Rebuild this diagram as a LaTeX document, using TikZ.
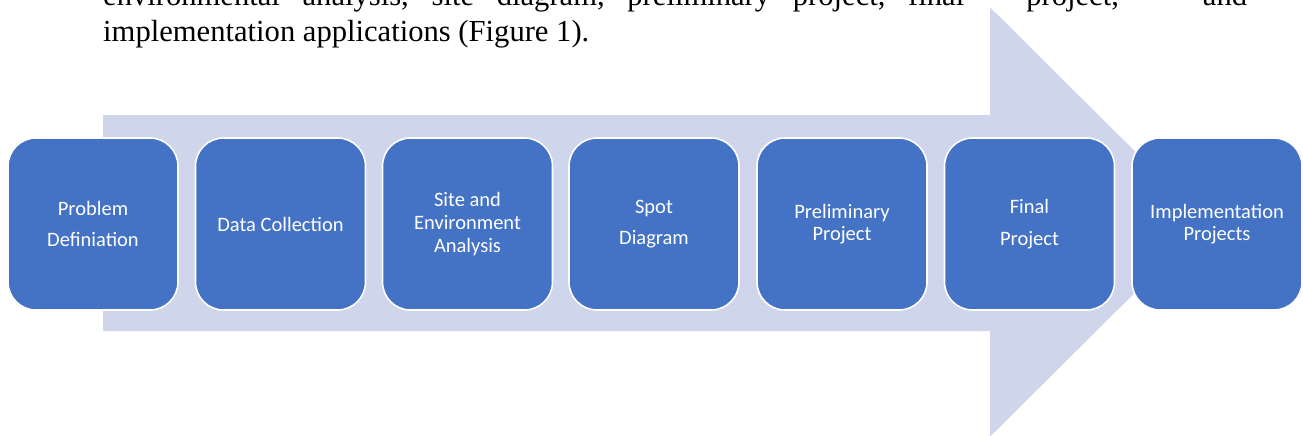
\documentclass[tikz,border=0pt]{standalone}
\usepackage{fontspec}
\setmainfont{Liberation Serif}
\newfontfamily\boxfont{Carlito}
\definecolor{arrowfill}{HTML}{CFD5EA}
\definecolor{stepfill}{HTML}{4472C4}
\begin{document}
\begin{tikzpicture}[x=1pt,y=-1pt,
  stepbox/.style={draw=white, line width=1.6pt, fill=stepfill, rounded corners=28pt,
    minimum width=170pt, minimum height=172pt, inner sep=0pt, text=white, align=center},
  lines/.style={font=\boxfont\fontsize{20.5}{#1}\selectfont},
  bodytext/.style={anchor=base west, inner sep=0pt, font=\fontsize{30.6}{36}\selectfont}]
\useasboundingbox (0,0) rectangle (1303,436);
\clip (0,0) rectangle (1303,436);

% paragraph lines above the figure
\node[bodytext] (line1) at (103,6) {environmental\hspace{22.7pt}analysis,\hspace{22.7pt}site\hspace{22.7pt}diagram,\hspace{22.7pt}preliminary\hspace{22.7pt}project,\hspace{22.7pt}final\hspace{62pt}project,\hspace{84pt}and};
\node[bodytext] (line2) at (103,41.7) {implementation applications (Figure 1).};

% large background arrow
\fill[arrowfill] (103,115) -- (990,115) -- (990,7.3) -- (1206,222)
  -- (990,436.7) -- (990,331) -- (103,331) -- cycle;

% process steps
\node[stepbox, lines=31] (s1) at (93,224)   {Problem\\Definiation};
\node[stepbox, lines=31] (s2) at (280.5,224) {Data Collection};
\node[stepbox, lines=23] (s3) at (467.5,224) {Site and\\Environment\\Analysis};
\node[stepbox, lines=31] (s4) at (654,224)  {Spot\\Diagram};
\node[stepbox, lines=22.5] (s5) at (842,224) {Preliminary\\Project};
\node[stepbox, lines=32] (s6) at (1029.5,224) {Final\\Project};
\node[stepbox, lines=22.5] (s7) at (1217,224) {Implementation\\Projects};
\end{tikzpicture}
\end{document}
